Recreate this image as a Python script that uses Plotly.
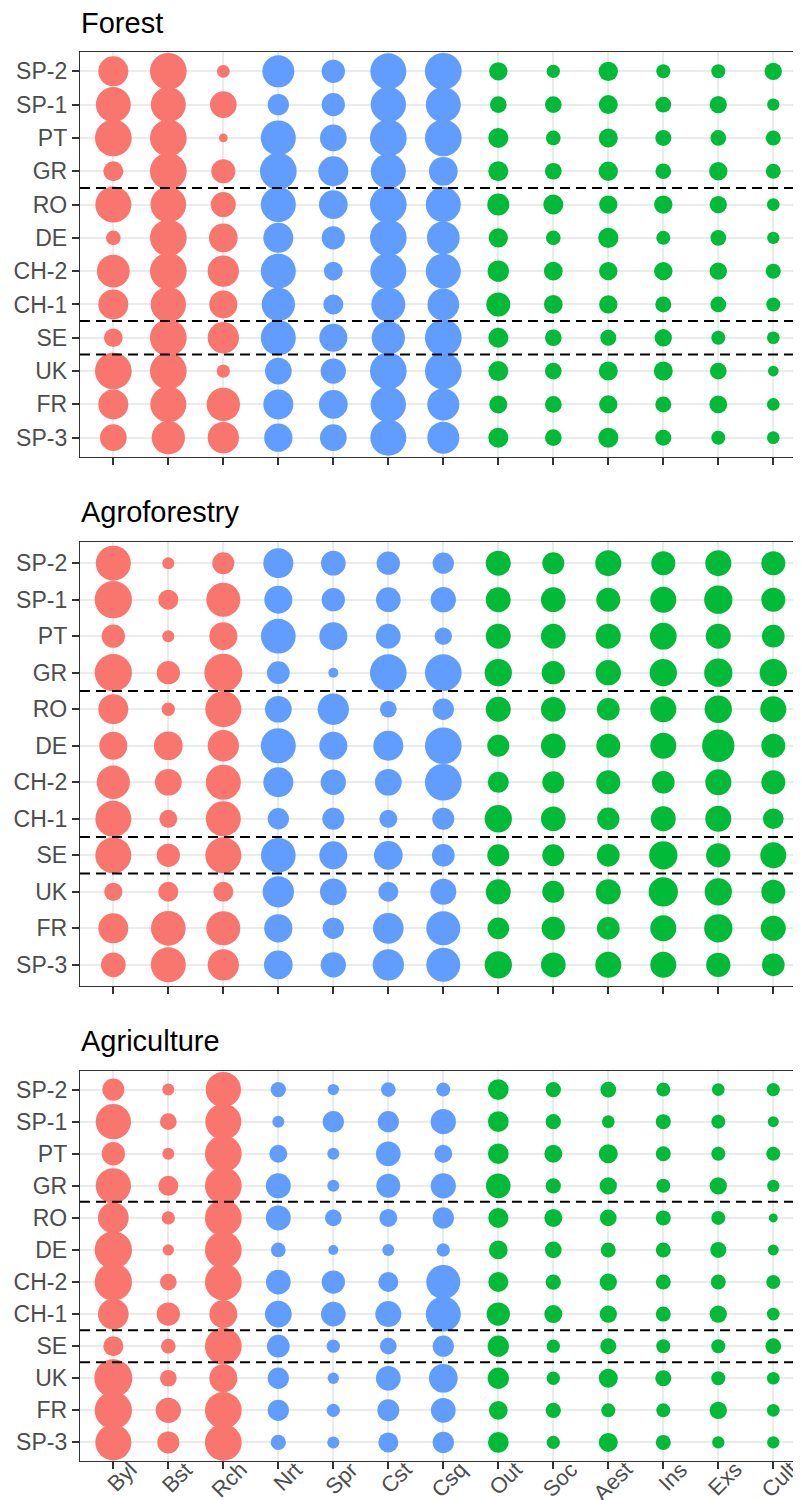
import plotly.graph_objects as go

countries = ["SP-2", "SP-1", "PT", "GR", "RO", "DE", "CH-2", "CH-1", "SE", "UK", "FR", "SP-3"]
indicators = ["Byl", "Bst", "Rch", "Nrt", "Spr", "Cst", "Csq", "Out", "Soc", "Aest", "Ins", "Exs", "Cult"]
groups = ["A", "A", "A", "B", "B", "B", "B", "C", "C", "C", "C", "C", "C"]
group_colors = {"A": "#F8766D", "B": "#619CFF", "C": "#00BA38"}
panel_titles = ["Forest", "Agroforestry", "Agriculture"]
separators = [7.5, 3.5, 2.5]  # between GR/RO, CH-1/SE, SE/UK (category index from bottom)

# rows: countries (top to bottom); columns: indicators
forest = [
    [30.0, 36.7, 12.7, 32.0, 23.3, 36.0, 36.7, 18.3, 13.3, 19.3, 14.0, 14.0, 17.3],
    [35.0, 35.0, 26.7, 21.3, 23.3, 35.3, 35.0, 16.7, 16.7, 19.0, 15.7, 17.3, 12.3],
    [36.7, 36.7, 8.7, 35.0, 26.7, 36.7, 36.7, 20.0, 14.7, 19.0, 16.0, 15.7, 15.0],
    [20.0, 36.7, 24.0, 36.7, 30.0, 35.0, 28.7, 20.0, 16.7, 19.3, 15.7, 18.3, 15.0],
    [36.0, 35.7, 25.0, 35.0, 28.7, 36.7, 35.0, 22.0, 20.0, 18.3, 18.3, 17.3, 12.7],
    [14.7, 36.7, 28.7, 30.0, 23.3, 36.7, 32.7, 19.3, 14.7, 20.3, 14.0, 15.7, 12.3],
    [32.7, 36.7, 31.3, 35.0, 18.7, 36.0, 35.0, 21.3, 18.7, 18.3, 18.3, 17.3, 15.0],
    [30.0, 35.3, 28.0, 33.3, 20.0, 34.0, 31.7, 24.0, 18.7, 18.3, 16.0, 15.7, 14.0],
    [18.7, 36.7, 31.3, 35.0, 28.0, 33.3, 36.7, 20.0, 16.7, 16.0, 17.3, 14.0, 12.7],
    [36.7, 36.7, 13.3, 26.7, 25.3, 36.7, 36.7, 20.0, 16.7, 19.0, 19.0, 16.7, 10.7],
    [30.0, 36.0, 33.3, 30.0, 28.7, 35.3, 32.0, 18.0, 16.7, 18.3, 16.0, 17.7, 12.7],
    [26.7, 33.3, 31.3, 28.3, 26.7, 36.0, 32.0, 20.0, 16.7, 20.0, 16.0, 14.0, 12.7],
]
agroforestry = [
    [35.0, 12.0, 22.0, 30.0, 24.7, 23.3, 21.3, 25.0, 22.0, 26.0, 24.0, 26.0, 24.0],
    [37.3, 20.0, 34.0, 28.0, 23.3, 24.7, 25.3, 25.0, 24.7, 24.0, 26.0, 28.3, 24.0],
    [23.3, 12.0, 28.0, 34.7, 28.0, 24.7, 17.3, 25.0, 24.7, 25.0, 26.7, 25.0, 22.7],
    [37.3, 23.3, 38.0, 22.7, 10.0, 36.7, 36.7, 27.3, 23.3, 25.3, 27.3, 28.3, 27.3],
    [30.0, 13.3, 36.0, 26.7, 31.3, 16.7, 21.3, 25.0, 24.7, 22.7, 26.0, 27.3, 26.0],
    [28.0, 28.7, 31.3, 35.0, 28.0, 30.0, 36.7, 22.0, 24.7, 24.0, 26.0, 32.3, 24.0],
    [33.3, 26.7, 35.0, 30.0, 25.3, 26.7, 36.7, 21.0, 22.0, 24.0, 22.7, 26.0, 24.0],
    [36.0, 18.0, 35.0, 21.3, 22.0, 18.0, 22.0, 27.3, 24.7, 22.3, 25.0, 26.0, 20.7],
    [36.0, 23.3, 36.0, 34.7, 28.0, 28.7, 22.7, 22.0, 22.0, 22.7, 28.3, 24.3, 26.0],
    [18.3, 20.0, 20.0, 31.3, 26.7, 20.0, 26.0, 25.0, 22.0, 25.0, 29.3, 27.3, 24.0],
    [30.0, 34.7, 34.0, 28.3, 21.3, 30.7, 34.0, 21.7, 23.3, 22.7, 26.0, 28.3, 25.0],
    [24.7, 35.0, 31.3, 28.7, 25.3, 31.3, 34.0, 27.3, 24.7, 26.0, 26.0, 24.3, 22.7],
]
agriculture = [
    [22.0, 12.0, 35.3, 15.3, 11.3, 14.7, 14.0, 20.7, 15.3, 15.7, 14.0, 12.7, 13.3],
    [35.3, 16.7, 36.0, 12.0, 21.3, 21.3, 25.3, 20.7, 15.3, 12.7, 15.0, 14.0, 11.0],
    [23.3, 12.0, 36.7, 18.0, 12.0, 24.7, 18.0, 20.7, 18.0, 19.0, 15.0, 14.0, 14.0],
    [35.3, 20.0, 36.7, 25.0, 12.0, 24.0, 25.3, 24.7, 15.3, 17.3, 14.0, 17.3, 12.3],
    [30.7, 13.3, 36.7, 25.0, 16.7, 18.0, 21.3, 20.0, 18.0, 16.7, 15.0, 14.0, 9.0],
    [37.3, 11.3, 36.7, 14.7, 10.0, 12.0, 13.3, 18.7, 16.7, 15.0, 15.0, 16.0, 11.0],
    [37.3, 16.7, 36.7, 24.7, 23.3, 20.0, 34.0, 20.0, 15.3, 17.3, 15.0, 15.0, 14.0],
    [30.7, 23.3, 28.0, 26.7, 24.7, 26.0, 35.0, 23.3, 18.0, 17.3, 15.0, 17.3, 12.7],
    [20.0, 14.7, 36.7, 22.7, 13.3, 16.7, 21.3, 21.3, 13.3, 16.0, 14.0, 14.0, 15.7],
    [38.0, 16.7, 28.0, 21.3, 11.3, 24.7, 28.7, 21.3, 13.3, 19.0, 16.0, 14.0, 12.7],
    [37.3, 25.3, 36.7, 21.3, 13.3, 22.0, 24.7, 18.7, 15.3, 14.0, 14.0, 17.3, 12.7],
    [36.0, 22.0, 36.7, 15.3, 12.0, 20.0, 21.3, 20.7, 13.3, 19.0, 15.0, 12.3, 12.3],
]
panels = [forest, agroforestry, agriculture]

# The page body has an 8px margin, so the figure is laid out 8px up/left.
OFF = 8
W, H = 801 - OFF, 1500 - OFF
panel_px = [(52, 457), (542, 986), (1071, 1461)]   # window pixels (top, bottom)
title_px = [23.5, 512, 1041]                        # window pixels (title centre)
x_left_px = 80

FONT = "Liberation Sans, Arial, sans-serif"
TICK_FS = 23
XLAB_FS = 22

# approximate Arial advance widths (em) to place rotated labels by their end point
_CW = {"B": .667, "y": .5, "l": .222, "s": .5, "t": .278, "R": .722, "c": .5, "h": .556,
       "N": .722, "r": .333, "S": .667, "p": .556, "C": .722, "q": .556, "O": .778,
       "u": .556, "o": .556, "A": .667, "e": .556, "I": .278, "n": .556, "E": .667, "x": .5}


def text_len(s, fs):
    return sum(_CW.get(ch, .556) for ch in s) * fs


fig = go.Figure()
shapes = []
annotations = []

for i, (vals, title) in enumerate(zip(panels, panel_titles)):
    n = "" if i == 0 else str(i + 1)
    xa, ya = "x" + n, "y" + n
    xs, ys, ss, cs = [], [], [], []
    for r, c in enumerate(countries):
        for k, ind in enumerate(indicators):
            xs.append(ind)
            ys.append(c)
            ss.append(vals[r][k])
            cs.append(group_colors[groups[k]])
    fig.add_trace(go.Scatter(
        x=xs, y=ys, mode="markers", xaxis=xa, yaxis=ya,
        marker=dict(size=ss, sizemode="diameter", sizeref=1, color=cs, line=dict(width=0), opacity=1),
        showlegend=False, cliponaxis=False, hoverinfo="skip",
    ))
    top, bot = panel_px[i]
    dom_y = [1 - (bot - OFF) / H, 1 - (top - OFF) / H]
    fig.update_layout(**{
        "xaxis" + n: dict(
            domain=[(x_left_px - OFF) / W, 1], anchor=ya, type="category", categoryarray=indicators,
            categoryorder="array", range=[-0.606, 12.504],
            showgrid=True, gridcolor="#EBEBEB", gridwidth=1.6,
            ticks="outside", ticklen=7, tickwidth=1.8, tickcolor="#333333",
            showticklabels=False,
            showline=True, linecolor="#333333", linewidth=1.4,
            mirror=True, zeroline=False, fixedrange=True, automargin=False,
        ),
        "yaxis" + n: dict(
            domain=dom_y, anchor=xa, type="category", categoryarray=countries[::-1],
            categoryorder="array", range=[-0.58, 11.58],
            showgrid=True, gridcolor="#EBEBEB", gridwidth=1.6,
            ticks="outside", ticklen=7, tickwidth=1.8, tickcolor="#333333",
            tickfont=dict(family=FONT, size=TICK_FS, color="#4D4D4D"),
            showline=True, linecolor="#333333", linewidth=1.4, mirror=False,
            zeroline=False, automargin=False, fixedrange=True,
        ),
    })
    for yv in separators:
        shapes.append(dict(
            type="line", xref=xa + " domain", yref=ya, x0=0, x1=1, y0=yv, y1=yv,
            line=dict(color="black", width=2, dash="10px,6px"), layer="above",
        ))
    annotations.append(dict(
        text=title, xref="paper", yref="paper", x=(x_left_px - OFF - 1) / W,
        y=1 - (title_px[i] - OFF) / H,
        xanchor="left", yanchor="middle", showarrow=False,
        font=dict(family=FONT, size=29, color="black"),
    ))

# rotated x labels of the bottom panel: text end sits ~20px right of the tick, just below the axis
end_dx, end_y = 20, 1466
for ind in indicators:
    half = 0.354 * text_len(ind, XLAB_FS)
    annotations.append(dict(
        text=ind, xref="x3", yref="paper", x=ind, xshift=end_dx - half,
        y=1 - (end_y + half - OFF) / H,
        xanchor="center", yanchor="middle", textangle=-45, showarrow=False,
        font=dict(family=FONT, size=XLAB_FS, color="#4D4D4D"),
    ))

fig.update_layout(
    width=W, height=H, margin=dict(l=0, r=0, t=0, b=0),
    paper_bgcolor="white", plot_bgcolor="white",
    shapes=shapes, annotations=annotations,
)

fig.write_html("out.html")
